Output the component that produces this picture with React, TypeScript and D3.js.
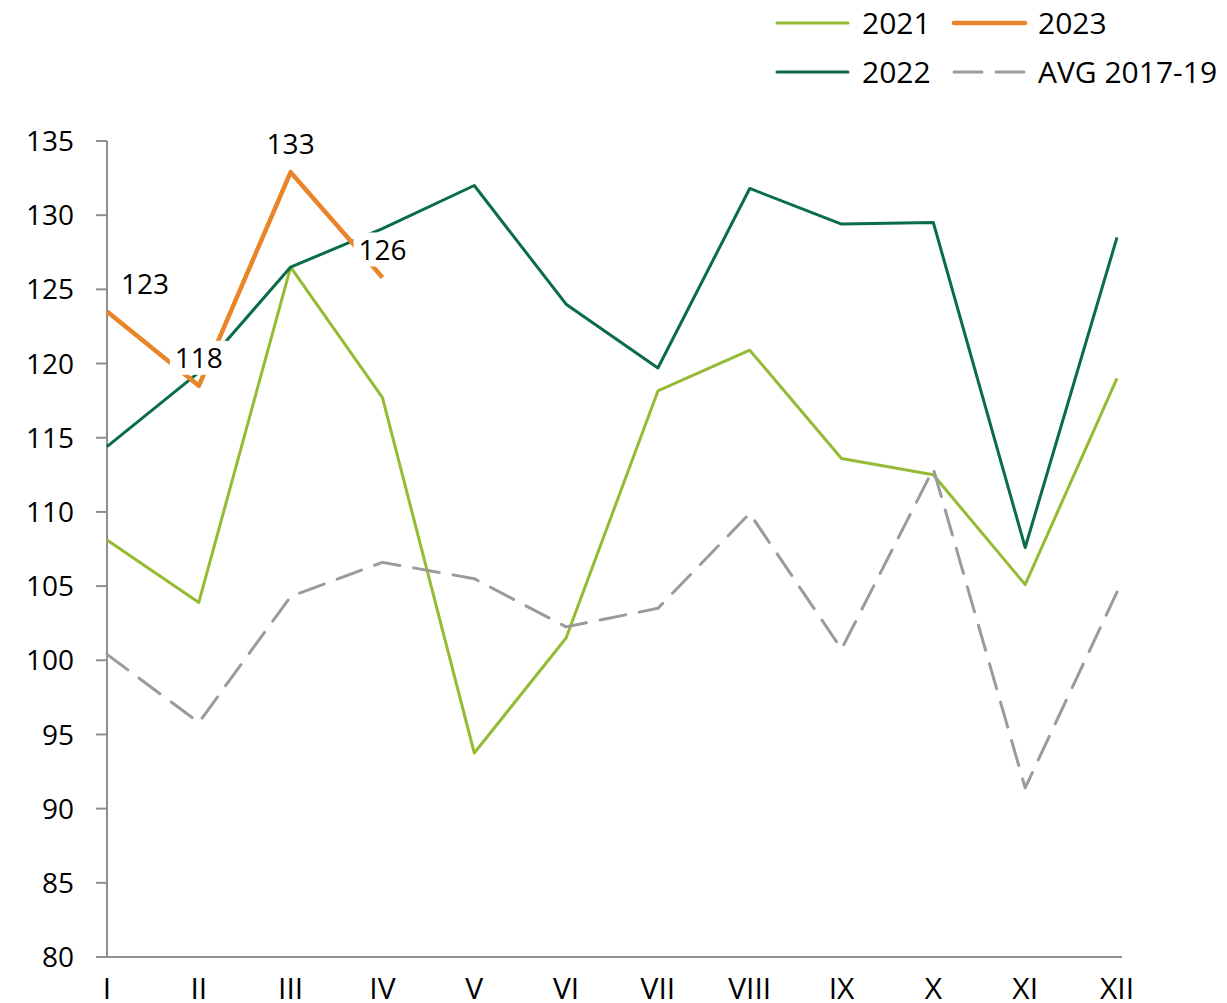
import React from "react";
import * as d3 from "d3";

const months = ["I", "II", "III", "IV", "V", "VI", "VII", "VIII", "IX", "X", "XI", "XII"];
const s2021 = [108.1, 103.9, 126.5, 117.7, 93.75, 101.5, 118.15, 120.9, 113.6, 112.5, 105.1, 119.0];
const s2022 = [114.4, 119.4, 126.5, 129.1, 132.0, 124.0, 119.7, 131.8, 129.4, 129.5, 107.6, 128.5];
const sAvg = [100.4, 95.8, 104.3, 106.6, 105.5, 102.25, 103.5, 109.9, 100.75, 112.9, 91.4, 104.6];
const s2023 = [123.5, 118.5, 132.9, 125.8];
const labels2023 = ["123", "118", "133", "126"];
const yTicks = [80, 85, 90, 95, 100, 105, 110, 115, 120, 125, 130, 135];

const FONT = "'Open Sans', 'Segoe UI', sans-serif";

export default function App() {
  const x = d3.scalePoint<string>().domain(months).range([107, 1117]).padding(0);
  const y = d3.scaleLinear().domain([80, 135]).range([957, 141]);
  const line = d3
    .line<number>()
    .x((_, i) => x(months[i]) as number)
    .y((d) => y(d));

  const series = [
    { name: "2021", data: s2021, color: "#95BB35", width: 3, dash: undefined as string | undefined },
    { name: "2022", data: s2022, color: "#0A6D45", width: 3, dash: undefined },
    { name: "AVG 2017-19", data: sAvg, color: "#9B9B9B", width: 3, dash: "26 14" },
    { name: "2023", data: s2023, color: "#EA8429", width: 4.5, dash: undefined },
  ];

  const legend = [
    { s: series[0], lx: 777, tx: 862, ty: 23 },
    { s: series[3], lx: 954, tx: 1038, ty: 23 },
    { s: series[1], lx: 777, tx: 862, ty: 72 },
    { s: series[2], lx: 954, tx: 1038, ty: 72 },
  ];

  return (
    <svg
      width={1227}
      height={1003}
      style={{ position: "absolute", left: 0, top: 0, background: "#fff" }}
      fontFamily={FONT}
    >
      {/* axes */}
      <line x1={107} x2={107} y1={y(135)} y2={y(80)} stroke="#8F8F8F" strokeWidth={2} />
      <line x1={96} x2={1122} y1={y(80)} y2={y(80)} stroke="#8F8F8F" strokeWidth={2} />
      {yTicks.map((t) => (
        <g key={t}>
          <line x1={96} x2={107} y1={y(t)} y2={y(t)} stroke="#8F8F8F" strokeWidth={2} />
          <text x={74} y={y(t)} dy="0.36em" textAnchor="end" fontSize={28} fill="#000">
            {t}
          </text>
        </g>
      ))}
      {months.map((m) => (
        <text key={m} x={x(m) as number} y={999} textAnchor="middle" fontSize={30} fill="#000">
          {m}
        </text>
      ))}

      {/* lines */}
      {series.map((s) => (
        <path
          key={s.name}
          d={line(s.data) || ""}
          fill="none"
          stroke={s.color}
          strokeWidth={s.width}
          strokeDasharray={s.dash}
          strokeLinejoin="round"
          strokeLinecap={s.dash ? "round" : "butt"}
        />
      ))}

      {/* data labels 2023 */}
      {s2023.map((v, i) => {
        const cx = (x(months[i]) as number) + (i === 0 ? 38 : 0);
        const cy = y(v) - 28;
        const w = labels2023[i].length * 16 + 10;
        return (
          <g key={i}>
            <rect x={cx - w / 2} y={cy - 17} width={w} height={34} fill="#fff" />
            <text x={cx} y={cy} dy="0.36em" textAnchor="middle" fontSize={28} fill="#000">
              {labels2023[i]}
            </text>
          </g>
        );
      })}

      {/* legend */}
      {legend.map((l) => (
        <g key={l.s.name}>
          <line
            x1={l.lx}
            x2={l.lx + 71}
            y1={l.ty}
            y2={l.ty}
            stroke={l.s.color}
            strokeWidth={l.s.width}
            strokeDasharray={l.s.dash ? "28 14" : undefined}
            strokeLinecap="round"
          />
          <text x={l.tx} y={l.ty} dy="0.36em" fontSize={30} fill="#000">
            {l.s.name}
          </text>
        </g>
      ))}
    </svg>
  );
}
